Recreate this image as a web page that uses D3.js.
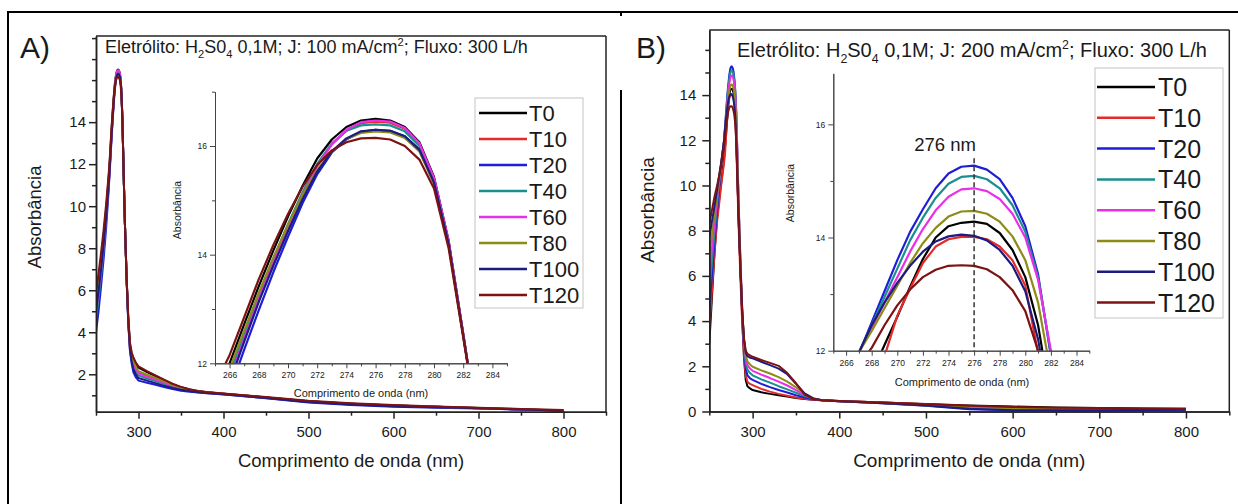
<!DOCTYPE html>
<html><head><meta charset="utf-8">
<script src="https://cdn.jsdelivr.net/npm/d3@7"></script>
<style>
body{margin:0;background:#fff}
svg{display:block}
text{font-family:Arial,"Liberation Sans",sans-serif;fill:#1a1a1a}
</style>
</head><body>
<svg id="c" width="1238" height="504"></svg>
<script>
// ---------------- DATA ----------------
const wavelengths = [250,253,256,259,262,264,265,266,267,268,269,270,271,272,273,274,275,276,277,278,279,280,281,282,283,284,286,288,290,292,294,297,300,310,320,330,340,350,360,370,380,400,450,500,550,600,650,700,750,800];
const seriesNames = ["T0","T10","T20","T40","T60","T80","T100","T120"];
const seriesColors = ["#000000","#e52a2a","#1e1ed6","#1b8f8f","#ea2eea","#8c8c16","#1c1c80","#7c1212"];

// Panel A: J = 100 mA/cm2
const aT0   = [5.6,6.5,7.5,8.6,9.9,10.9,11.4,12.0,12.72,13.42,14.08,14.7,15.27,15.77,16.12,16.35,16.47,16.5,16.47,16.35,16.07,15.43,14.26,12.55,10.8,9.2,6.6,4.6,3.4,2.95,2.72,2.5,2.32,2.1,1.92,1.72,1.53,1.38,1.28,1.2,1.15,1.08,0.9,0.72,0.6,0.52,0.46,0.4,0.33,0.28];
const aT10  = [4.8,5.8,6.9,8.1,9.5,10.6,11.15,11.75,12.48,13.2,13.88,14.52,15.12,15.65,16.03,16.28,16.42,16.45,16.43,16.32,16.04,15.4,14.24,12.54,10.8,9.2,6.6,4.6,3.35,2.85,2.55,2.28,2.08,1.9,1.76,1.6,1.45,1.32,1.24,1.18,1.13,1.07,0.9,0.72,0.6,0.52,0.45,0.39,0.33,0.28];
const aT20  = [4.0,5.0,6.2,7.5,9.0,10.2,10.85,11.5,12.25,12.98,13.68,14.33,14.95,15.48,15.88,16.12,16.26,16.3,16.28,16.18,15.94,15.33,14.2,12.52,10.8,9.2,6.5,4.4,3.1,2.5,2.1,1.85,1.7,1.6,1.5,1.4,1.3,1.22,1.17,1.13,1.1,1.04,0.86,0.66,0.54,0.46,0.41,0.37,0.32,0.27];
const aT40  = [4.6,5.6,6.7,7.95,9.4,10.5,11.1,11.8,12.52,13.24,13.92,14.56,15.15,15.67,16.05,16.28,16.38,16.4,16.38,16.27,16.0,15.38,14.22,12.53,10.8,9.2,6.55,4.5,3.25,2.7,2.4,2.12,1.95,1.8,1.68,1.55,1.42,1.3,1.23,1.17,1.13,1.06,0.89,0.71,0.59,0.51,0.45,0.39,0.33,0.28];
const aT60  = [4.9,5.9,6.95,8.15,9.5,10.55,11.1,11.7,12.45,13.18,13.86,14.5,15.1,15.63,16.03,16.3,16.44,16.47,16.45,16.33,16.05,15.41,14.25,12.54,10.8,9.2,6.6,4.55,3.3,2.8,2.5,2.22,2.05,1.88,1.75,1.6,1.46,1.33,1.25,1.18,1.14,1.07,0.9,0.72,0.6,0.52,0.46,0.4,0.33,0.28];
const aT80  = [5.3,6.25,7.3,8.45,9.75,10.75,11.3,11.9,12.6,13.3,13.95,14.55,15.1,15.56,15.9,16.13,16.24,16.27,16.25,16.15,15.9,15.3,14.18,12.5,10.8,9.2,6.6,4.6,3.38,2.9,2.62,2.35,2.15,1.98,1.83,1.66,1.5,1.36,1.27,1.2,1.15,1.08,0.9,0.72,0.6,0.52,0.46,0.4,0.34,0.29];
const aT100 = [5.0,5.95,7.0,8.2,9.5,10.5,11.05,11.65,12.4,13.13,13.8,14.43,15.02,15.53,15.9,16.14,16.27,16.3,16.28,16.18,15.93,15.33,14.2,12.52,10.8,9.2,6.5,4.45,3.15,2.6,2.25,1.98,1.82,1.7,1.58,1.46,1.35,1.26,1.2,1.15,1.11,1.05,0.87,0.68,0.56,0.48,0.43,0.38,0.32,0.27];
const aT120 = [5.9,6.8,7.8,8.9,10.15,11.1,11.6,12.15,12.85,13.55,14.18,14.75,15.25,15.65,15.92,16.07,16.14,16.15,16.12,16.0,15.75,15.22,14.12,12.48,10.8,9.2,6.65,4.7,3.5,3.05,2.8,2.55,2.38,2.15,1.95,1.75,1.55,1.4,1.29,1.21,1.16,1.09,0.92,0.74,0.62,0.54,0.47,0.41,0.35,0.3];

// Panel B: J = 200 mA/cm2
const bT0   = [3.0,5.0,7.0,8.6,9.6,10.2,10.5,10.85,11.2,11.6,12.1,12.6,13.13,13.62,14.0,14.2,14.26,14.28,14.24,14.08,13.78,13.3,12.45,11.1,9.7,8.3,6.3,4.1,2.4,1.4,1.12,1.02,0.95,0.85,0.78,0.72,0.66,0.6,0.55,0.52,0.5,0.46,0.4,0.33,0.27,0.22,0.18,0.15,0.13,0.12];
const bT10  = [3.6,5.3,7.0,8.4,9.4,10.1,10.4,10.7,11.0,11.35,11.9,12.62,13.1,13.55,13.84,13.97,14.01,14.01,13.97,13.84,13.6,13.15,11.95,10.6,9.3,8.0,5.8,3.9,2.5,1.6,1.32,1.22,1.17,1.0,0.88,0.78,0.7,0.62,0.56,0.52,0.5,0.46,0.4,0.32,0.24,0.18,0.14,0.12,0.1,0.1];
const bT20  = [4.5,6.0,7.5,8.9,10.2,10.95,11.3,11.6,11.95,12.5,13.05,13.6,14.1,14.5,14.87,15.13,15.25,15.27,15.2,15.03,14.7,14.2,13.35,11.9,10.3,8.9,6.4,4.3,2.8,1.9,1.6,1.47,1.4,1.22,1.08,0.95,0.84,0.72,0.62,0.54,0.5,0.45,0.37,0.25,0.1,0.05,0.05,0.06,0.07,0.08];
const bT40  = [5.3,6.6,7.9,9.2,10.35,11.0,11.35,11.65,11.97,12.45,12.95,13.45,13.95,14.35,14.7,14.95,15.07,15.09,15.03,14.87,14.57,14.1,13.3,11.95,10.4,9.0,6.5,4.4,3.0,2.15,1.85,1.7,1.6,1.42,1.28,1.12,0.98,0.83,0.68,0.56,0.5,0.45,0.38,0.28,0.2,0.14,0.12,0.11,0.11,0.11];
const bT60  = [6.1,7.2,8.3,9.4,10.45,11.05,11.35,11.65,11.97,12.4,12.85,13.3,13.75,14.15,14.48,14.72,14.85,14.87,14.82,14.68,14.42,14.0,13.25,12.0,10.5,9.1,6.6,4.5,3.1,2.35,2.05,1.9,1.8,1.63,1.48,1.32,1.15,0.95,0.74,0.58,0.5,0.45,0.38,0.29,0.21,0.16,0.13,0.12,0.11,0.11];
const bT80  = [6.9,7.8,8.7,9.6,10.5,11.05,11.35,11.65,11.97,12.35,12.75,13.15,13.55,13.9,14.17,14.37,14.46,14.47,14.42,14.28,14.02,13.6,12.85,11.6,10.2,8.9,6.5,4.5,3.2,2.5,2.22,2.08,1.98,1.82,1.68,1.52,1.32,1.07,0.78,0.58,0.5,0.45,0.38,0.28,0.2,0.14,0.11,0.1,0.1,0.1];
const bT100 = [7.7,8.4,9.1,9.8,10.6,11.1,11.4,11.7,11.97,12.45,12.85,13.2,13.5,13.75,13.93,14.02,14.05,14.03,13.95,13.78,13.5,13.05,12.2,10.9,9.6,8.4,6.2,4.4,3.2,2.6,2.45,2.38,2.35,2.2,2.05,1.9,1.65,1.23,0.8,0.58,0.5,0.45,0.37,0.26,0.12,0.06,0.05,0.06,0.07,0.08];
const bT120 = [8.3,8.9,9.5,10.0,10.55,11.0,11.25,11.5,11.75,12.05,12.45,12.8,13.08,13.3,13.43,13.5,13.51,13.5,13.44,13.3,13.07,12.7,12.0,10.9,9.6,8.4,6.2,4.4,3.25,2.7,2.55,2.48,2.42,2.28,2.15,2.02,1.7,1.25,0.75,0.55,0.5,0.46,0.4,0.32,0.25,0.2,0.17,0.15,0.13,0.12];

// Tick labels
const mainXTicks = [300,400,500,600,700,800];
const mainXMinor = [250,350,450,550,650,750,850];
const aYTicks = [2,4,6,8,10,12,14];
const aYMinor = [1,3,5,7,9,11,13,15,16,17,18];
const bYTicks = [0,2,4,6,8,10,12,14];
const bYMinor = [1,3,5,7,9,11,13,15,16];
const insetXTicks = [266,268,270,272,274,276,278,280,282,284];
const insetXMinor = [265,267,269,271,273,275,277,279,281,283,285];
const insetYTicks = [12,14,16];
const insetYMinor = [13,15,17];
const peakMarker = 276;

// ---------------- DRAWING ----------------
const svg = d3.select("#c");
const FONT = 'Arial, "Liberation Sans", sans-serif';

// outer table frame
const frame = svg.append("g").attr("stroke","#000").attr("stroke-width",2);
frame.append("line").attr("x1",7).attr("y1",12).attr("x2",1238).attr("y2",12);
frame.append("line").attr("x1",8).attr("y1",11).attr("x2",8).attr("y2",504);
frame.append("line").attr("x1",621).attr("y1",11).attr("x2",621).attr("y2",16);
frame.append("line").attr("x1",621).attr("y1",90).attr("x2",621).attr("y2",504);

function styleAxis(g, col, w){
  g.select(".domain").attr("stroke",col).attr("stroke-width",w);
  g.selectAll(".tick line").attr("stroke",col).attr("stroke-width",w);
  g.selectAll(".tick text").attr("fill","#1a1a1a").style("font-family",FONT);
}

function drawPanel(cfg){
  const g = svg.append("g");
  const series = cfg.series;
  const x = d3.scaleLinear().domain([250,850]).range([cfg.left,cfg.right]);
  const y = d3.scaleLinear().domain(cfg.yDomain).range([cfg.bottom,cfg.top]);
  const clipId = "clip"+cfg.id;
  svg.append("clipPath").attr("id",clipId).append("rect")
    .attr("x",cfg.left).attr("y",cfg.top).attr("width",cfg.right-cfg.left).attr("height",cfg.bottom-cfg.top);

  const line = d3.line().x(d=>x(d[0])).y(d=>y(d[1]));
  const cg = g.append("g").attr("clip-path",`url(#${clipId})`);
  series.forEach((vals,i)=>{
    cg.append("path").datum(wavelengths.map((w,j)=>[w,vals[j]]))
      .attr("d",line).attr("fill","none").attr("stroke",seriesColors[i])
      .attr("stroke-width",2).attr("stroke-linejoin","round");
  });

  // frame top/right
  g.append("line").attr("x1",cfg.left).attr("y1",cfg.top).attr("x2",cfg.right).attr("y2",cfg.top).attr("stroke","#222").attr("stroke-width",1.5);
  g.append("line").attr("x1",cfg.right).attr("y1",cfg.top).attr("x2",cfg.right).attr("y2",cfg.bottom).attr("stroke","#222").attr("stroke-width",1.5);

  // axes
  const xa = g.append("g").attr("transform",`translate(0,${cfg.bottom})`)
    .call(d3.axisBottom(x).tickValues(mainXTicks).tickSize(7).tickPadding(8).tickSizeOuter(0).tickFormat(d3.format("d")));
  xa.selectAll("text").attr("font-size",15);
  styleAxis(xa,"#222",1.5);
  const xm = g.append("g").attr("transform",`translate(0,${cfg.bottom})`)
    .call(d3.axisBottom(x).tickValues(mainXMinor).tickSize(4).tickFormat("").tickSizeOuter(0));
  styleAxis(xm,"#222",1.5);

  const ya = g.append("g").attr("transform",`translate(${cfg.left},0)`)
    .call(d3.axisLeft(y).tickValues(cfg.yTicks).tickSize(7).tickPadding(cfg.yPad).tickSizeOuter(0).tickFormat(d3.format("d")));
  ya.selectAll("text").attr("font-size",15);
  styleAxis(ya,"#222",1.5);
  const ym = g.append("g").attr("transform",`translate(${cfg.left},0)`)
    .call(d3.axisLeft(y).tickValues(cfg.yMinor.filter(v=>v<=cfg.yDomain[1])).tickSize(4).tickFormat("").tickSizeOuter(0));
  styleAxis(ym,"#222",1.5);

  // titles
  g.append("text").attr("x",(cfg.left+cfg.right)/2).attr("y",cfg.xTitleY).attr("text-anchor","middle")
    .attr("font-size",cfg.titleSize).text("Comprimento de onda (nm)");
  g.append("text").attr("transform",`translate(${cfg.yTitleX},${cfg.yTitleY}) rotate(-90)`).attr("text-anchor","middle")
    .attr("font-size",cfg.titleSize).text("Absorbância");

  // panel letter
  g.append("text").attr("x",cfg.letterX).attr("y",58).attr("font-size",30).text(cfg.letter);

  // header text with sub/superscripts
  const s = cfg.headSize;
  const t = g.append("text").attr("x",cfg.headX).attr("y",cfg.headY).attr("font-size",s);
  t.append("tspan").text("Eletrólito: H");
  t.append("tspan").attr("dy",s*0.3).attr("font-size",s*0.62).text("2");
  t.append("tspan").attr("dy",-s*0.3).text("S0");
  t.append("tspan").attr("dy",s*0.3).attr("font-size",s*0.62).text("4");
  t.append("tspan").attr("dy",-s*0.3).text(" 0,1M; J: "+cfg.J+" mA/cm");
  t.append("tspan").attr("dy",-s*0.4).attr("font-size",s*0.62).text("2");
  t.append("tspan").attr("dy",s*0.4).text("; Fluxo: 300 L/h");

  // ---- inset ----
  const ins = cfg.inset;
  const ix = d3.scaleLinear().domain([265,285]).range([ins.left,ins.right]);
  const iy = d3.scaleLinear().domain(ins.yDomain).range([ins.bottom,ins.top]);
  const iclip = "iclip"+cfg.id;
  svg.append("clipPath").attr("id",iclip).append("rect")
    .attr("x",ins.left).attr("y",ins.top).attr("width",ins.right-ins.left).attr("height",ins.bottom-ins.top);
  const iline = d3.line().x(d=>ix(d[0])).y(d=>iy(d[1]));
  const ig = g.append("g").attr("clip-path",`url(#${iclip})`);
  series.forEach((vals,i)=>{
    ig.append("path").datum(wavelengths.map((w,j)=>[w,vals[j]]))
      .attr("d",iline).attr("fill","none").attr("stroke",seriesColors[i])
      .attr("stroke-width",2.2).attr("stroke-linejoin","round");
  });
  if(ins.marker){
    g.append("line").attr("x1",ix(peakMarker)).attr("x2",ix(peakMarker))
      .attr("y1",iy(ins.markerTop)).attr("y2",ins.bottom)
      .attr("stroke","#333").attr("stroke-width",1.5).attr("stroke-dasharray","5,3");
    g.append("text").attr("x",ins.markerLabelX).attr("y",ins.markerLabelY).attr("text-anchor","middle")
      .attr("font-size",18.5).text(peakMarker+" nm");
  }
  const fmt = d3.format("d");
  const ixa = g.append("g").attr("transform",`translate(0,${ins.bottom})`)
    .call(d3.axisBottom(ix).tickValues(insetXTicks).tickSize(5).tickPadding(4).tickSizeOuter(0).tickFormat(fmt));
  ixa.selectAll("text").attr("font-size",8.5);
  styleAxis(ixa,"#444",1);
  const ixm = g.append("g").attr("transform",`translate(0,${ins.bottom})`)
    .call(d3.axisBottom(ix).tickValues(insetXMinor).tickSize(3).tickFormat("").tickSizeOuter(0));
  styleAxis(ixm,"#444",1);
  const iya = g.append("g").attr("transform",`translate(${ins.left},0)`)
    .call(d3.axisLeft(iy).tickValues(insetYTicks).tickSize(5).tickPadding(3).tickSizeOuter(0).tickFormat(fmt));
  iya.selectAll("text").attr("font-size",8.5);
  styleAxis(iya,"#444",1);
  const iym = g.append("g").attr("transform",`translate(${ins.left},0)`)
    .call(d3.axisLeft(iy).tickValues(insetYMinor.filter(v=>v<=ins.yDomain[1])).tickSize(3).tickFormat("").tickSizeOuter(0));
  styleAxis(iym,"#444",1);
  g.append("text").attr("x",ins.xTitleX).attr("y",ins.xTitleY).attr("text-anchor","middle")
    .attr("font-size",11).text("Comprimento de onda (nm)");
  g.append("text").attr("transform",`translate(${ins.yTitleX},${ins.yTitleY}) rotate(-90)`).attr("text-anchor","middle")
    .attr("font-size",10.5).text("Absorbância");

  // ---- legend ----
  const L = cfg.legend;
  const lg = g.append("g");
  lg.append("rect").attr("x",L.x).attr("y",L.y).attr("width",L.w).attr("height",L.h)
    .attr("fill","#fff").attr("stroke","#c4c4c4").attr("stroke-width",1);
  seriesNames.forEach((n,i)=>{
    const yy = L.firstY + i*L.step;
    lg.append("line").attr("x1",L.lineX1).attr("x2",L.lineX2).attr("y1",yy).attr("y2",yy)
      .attr("stroke",seriesColors[i]).attr("stroke-width",2.5);
    lg.append("text").attr("x",L.textX).attr("y",yy).attr("dy","0.36em").attr("font-size",L.size).text(n);
  });
}

drawPanel({
  id:"A", letter:"A)", letterX:20, J:"100",
  series:[aT0,aT10,aT20,aT40,aT60,aT80,aT100,aT120],
  left:96, right:606, top:36, bottom:411.7, yDomain:[0.22,18.1],
  yTicks:aYTicks, yMinor:aYMinor, yPad:3,
  xTitleY:467, yTitleX:41, yTitleY:217, titleSize:18.5,
  headX:105, headY:53, headSize:18,
  inset:{left:215, right:507, top:91.7, bottom:363.3, yDomain:[12,17],
         xTitleX:361, xTitleY:397, yTitleX:181, yTitleY:210, marker:false},
  legend:{x:475, y:98, w:108, h:210, firstY:113, step:26, lineX1:479, lineX2:527, textX:529, size:22}
});

drawPanel({
  id:"B", letter:"B)", letterX:636, J:"200",
  series:[bT0,bT10,bT20,bT40,bT60,bT80,bT100,bT120],
  left:709.3, right:1229.3, top:30, bottom:411.5, yDomain:[0,16.88],
  yTicks:bYTicks, yMinor:bYMinor, yPad:6,
  xTitleY:467, yTitleX:654, yTitleY:210, titleSize:19,
  headX:737, headY:57, headSize:20,
  inset:{left:833.3, right:1089.3, top:73.4, bottom:350.7, yDomain:[12,16.9],
         xTitleX:962, xTitleY:386, yTitleX:794, yTitleY:193, marker:true, markerTop:15.4,
         markerLabelX:945, markerLabelY:151},
  legend:{x:1095, y:68, w:128, h:250, firstY:87, step:30.8, lineX1:1097, lineX2:1155, textX:1158, size:25}
});
</script>
</body></html>
